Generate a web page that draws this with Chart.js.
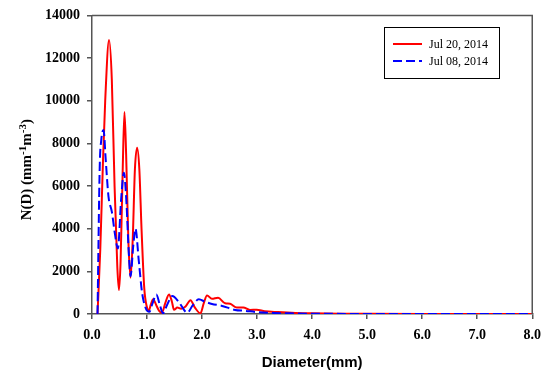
<!DOCTYPE html>
<html>
<head>
<meta charset="utf-8">
<script src="https://cdn.jsdelivr.net/npm/chart.js@4/dist/chart.umd.min.js"></script>
<style>
  html, body { margin: 0; padding: 0; background: #fff; }
  #wrap { width: 549px; height: 371px; }
</style>
</head>
<body>
<div id="wrap"><canvas id="dsd_canvas" width="549" height="371"></canvas></div>
<script>
// series labels
var seriesLabels = ["Jul 20, 2014", "Jul 08, 2014"];

// Jul 20, 2014 (red, solid)
var diamJul20 = [0.10, 0.15, 0.20, 0.24, 0.31, 0.36, 0.41, 0.46, 0.49, 0.52, 0.56, 0.59, 0.62, 0.66, 0.70, 0.74, 0.78, 0.82, 0.86, 0.90, 0.95, 1.00, 1.03, 1.07, 1.11, 1.17, 1.22, 1.27, 1.33, 1.40, 1.45, 1.49, 1.55, 1.62, 1.70, 1.79, 1.87, 1.97, 2.03, 2.09, 2.18, 2.29, 2.42, 2.51, 2.63, 2.75, 2.87, 2.99, 3.14, 3.38, 3.70, 4.00, 4.50, 5.00, 6.00, 7.00, 8.00];
var ndJul20 = [0, 3000, 7200, 10000, 12850, 11000, 6000, 2200, 1120, 2500, 7000, 9470, 7500, 3500, 1700, 3500, 6800, 7800, 6800, 4000, 1200, 300, 150, 450, 690, 400, 150, 60, 500, 920, 600, 200, 300, 250, 350, 650, 300, 30, 500, 870, 710, 760, 500, 480, 300, 310, 190, 200, 130, 90, 50, 30, 15, 10, 5, 3, 2];

// Jul 08, 2014 (blue, dashed)
var diamJul08 = [0.10, 0.14, 0.17, 0.21, 0.25, 0.30, 0.36, 0.42, 0.47, 0.53, 0.58, 0.62, 0.67, 0.70, 0.75, 0.79, 0.85, 0.91, 0.98, 1.04, 1.10, 1.17, 1.23, 1.29, 1.36, 1.46, 1.58, 1.73, 1.83, 1.94, 2.06, 2.18, 2.35, 2.60, 2.78, 3.00, 3.30, 3.60, 4.00, 5.00, 6.00, 8.00];
var ndJul08 = [0, 6870, 8200, 8630, 7200, 5500, 4800, 3700, 3070, 5400, 6620, 5500, 2800, 1770, 3200, 4000, 2500, 1000, 250, 100, 500, 920, 450, 30, 400, 840, 550, 60, 400, 690, 570, 470, 390, 190, 150, 90, 50, 30, 10, 5, 3, 2];

// axis ticks
var xTicks = [0, 1, 2, 3, 4, 5, 6, 7, 8];
var yTicks = [0, 2000, 4000, 6000, 8000, 10000, 12000, 14000];

function toPoints(xs, ys) {
    return xs.map(function (x, i) { return { x: x, y: ys[i] }; });
}

var axisColor = "#555";
var tickFont = { family: "'Liberation Serif', 'Times New Roman', serif", size: 14, weight: "bold" };

// titles, frame and legend drawn on the canvas
var decorPlugin = {
    id: "decor",
    afterDatasetsDraw: function (chart) {
        var ctx = chart.ctx;
        var a = chart.chartArea;
        ctx.save();

        // frame (top & right)
        ctx.strokeStyle = axisColor;
        ctx.lineWidth = 1.5;
        ctx.beginPath();
        ctx.moveTo(a.left, a.top);
        ctx.lineTo(a.right, a.top);
        ctx.lineTo(a.right, a.bottom);
        ctx.stroke();

        // x title
        ctx.fillStyle = "#000";
        ctx.font = "bold 15px 'Liberation Sans', Arial, sans-serif";
        ctx.textAlign = "center";
        ctx.textBaseline = "middle";
        ctx.fillText("Diameter(mm)", (a.left + a.right) / 2, 363);

        // y title with superscripts
        ctx.translate(26, (a.top + a.bottom) / 2 + 5);
        ctx.rotate(-Math.PI / 2);
        var parts = [
            ["N(D) (mm", false], ["-1", true], ["m", false], ["-3", true], [")", false]
        ];
        var big = "bold 15px 'Liberation Serif', 'Times New Roman', serif";
        var small = "bold 11px 'Liberation Serif', 'Times New Roman', serif";
        var total = 0;
        parts.forEach(function (p) { ctx.font = p[1] ? small : big; total += ctx.measureText(p[0]).width; });
        var x = -total / 2;
        ctx.textAlign = "left";
        ctx.textBaseline = "alphabetic";
        parts.forEach(function (p) {
            ctx.font = p[1] ? small : big;
            ctx.fillText(p[0], x, p[1] ? 0 : 5);
            x += ctx.measureText(p[0]).width;
        });
        ctx.restore();

        // legend
        ctx.save();
        ctx.fillStyle = "#fff";
        ctx.fillRect(384, 27, 115, 51);
        ctx.strokeStyle = "#000";
        ctx.lineWidth = 1;
        ctx.strokeRect(384.5, 27.5, 115, 51);
        ctx.font = "12px 'Liberation Serif', 'Times New Roman', serif";
        ctx.textBaseline = "middle";
        ctx.textAlign = "left";
        var rows = [44, 61];
        chart.data.datasets.forEach(function (ds, i) {
            ctx.strokeStyle = ds.borderColor;
            ctx.lineWidth = ds.borderWidth;
            ctx.setLineDash(ds.borderDash || []);
            ctx.beginPath();
            ctx.moveTo(393, rows[i]);
            ctx.lineTo(422, rows[i]);
            ctx.stroke();
            ctx.setLineDash([]);
            ctx.fillStyle = "#000";
            ctx.fillText(ds.label, 429, rows[i] + 1);
        });
        ctx.restore();
    }
};

new Chart(document.getElementById("dsd_canvas").getContext("2d"), {
    type: "line",
    data: {
        datasets: [
            {
                label: seriesLabels[0],
                data: toPoints(diamJul20, ndJul20),
                borderColor: "#ff0000",
                borderWidth: 2,
                pointRadius: 0,
                fill: false,
                cubicInterpolationMode: "monotone",
                order: 1
            }, {
                label: seriesLabels[1],
                data: toPoints(diamJul08, ndJul08),
                borderColor: "#0000ff",
                borderWidth: 2,
                borderDash: [9, 4],
                pointRadius: 0,
                fill: false,
                cubicInterpolationMode: "monotone",
                order: 0
            }
        ]
    },
    options: {
        responsive: false,
        animation: false,
        layout: { padding: { left: 0, right: 12, top: 14, bottom: 0 } },
        plugins: {
            legend: { display: false },
            tooltip: { enabled: false }
        },
        scales: {
            x: {
                type: "linear",
                min: 0,
                max: 8,
                afterBuildTicks: function (scale) { scale.ticks = xTicks.map(function (v) { return { value: v }; }); },
                afterFit: function (scale) { scale.height = 57; },
                ticks: {
                    color: "#000",
                    font: tickFont,
                    padding: 8,
                    maxRotation: 0,
                    callback: function (v) { return Number(v).toFixed(1); }
                },
                grid: { display: true, drawOnChartArea: false, drawTicks: true, tickLength: 5, color: axisColor, lineWidth: 1.5 },
                border: { display: true, color: axisColor, width: 1.5 }
            },
            y: {
                min: 0,
                max: 14000,
                afterBuildTicks: function (scale) { scale.ticks = yTicks.map(function (v) { return { value: v }; }); },
                afterFit: function (scale) { scale.width = 92; },
                ticks: {
                    color: "#000",
                    font: tickFont,
                    padding: 7,
                    callback: function (v) { return String(v); }
                },
                grid: { display: true, drawOnChartArea: false, drawTicks: true, tickLength: 5, color: axisColor, lineWidth: 1.5 },
                border: { display: true, color: axisColor, width: 1.5 }
            }
        }
    },
    plugins: [decorPlugin]
});
</script>
</body>
</html>
